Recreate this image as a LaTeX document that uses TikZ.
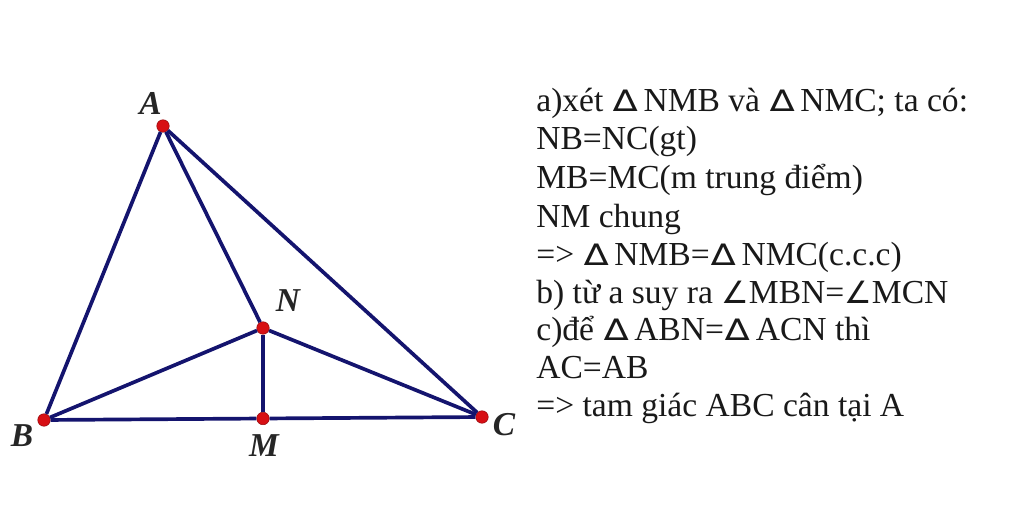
\documentclass[tikz,border=0pt]{standalone}
\usepackage{fontspec}
\setmainfont{Liberation Serif}
\newfontfamily\symfont{DejaVu Sans}
\usepackage{graphicx}
\usepackage{tikz}
\usetikzlibrary{positioning}
\newcommand{\tamgiac}{\kern1pt\scalebox{1.22}[1]{\symfont\fontsize{17}{17}\selectfont ∆}\kern3.2pt\relax}
\newcommand{\goc}{{\symfont\fontsize{17.5}{17.5}\selectfont ∠}}
\definecolor{edgeblue}{RGB}{20,20,110}
\definecolor{dotred}{RGB}{215,15,20}
\tikzset{
    vertex/.style={circle, fill=dotred, draw=dotred!70!black, line width=0.3pt, inner sep=0pt, minimum size=0.25cm},
    side/.style={draw=edgeblue, line width=2.1pt},
    ptlabel/.style={font=\fontsize{19}{19}\selectfont\bfseries\itshape, text=black!85, inner sep=0pt},
    proofline/.style={anchor=base west, font=\fontsize{19.1}{19.1}\selectfont, text=black!90, inner sep=0pt}
}
\begin{document}
\begin{tikzpicture}
    \useasboundingbox (0,0) rectangle (20.48,10.38);

    % Vertices
    \node[vertex] (A) at (3.26,7.86) {};
    \node[vertex] (B) at (0.88,1.98) {};
    \node[vertex] (C) at (9.64,2.04) {};
    \node[vertex] (M) at (5.26,2.01) {};
    \node[vertex] (N) at (5.26,3.82) {};

    % Sides
    \draw[side] (A) -- (B);
    \draw[side] (A) -- (C);
    \draw[side] (A) -- (N);
    \draw[side] (B) -- (M);
    \draw[side] (M) -- (C);
    \draw[side] (N) -- (B);
    \draw[side] (N) -- (C);
    \draw[side] (N) -- (M);

    % Point labels
    \node[ptlabel] (labA) at (3.01,8.32) {A};
    \node[ptlabel] (labB) at (0.44,1.66) {B};
    \node[ptlabel] (labC) at (10.08,1.88) {C};
    \node[ptlabel] (labM) at (5.28,1.46) {M};
    \node[ptlabel] (labN) at (5.76,4.36) {N};

    % Proof text
    \node[proofline] (line1) at (10.72,8.16) {a)xét \tamgiac NMB và \tamgiac NMC; ta có:};
    \node[proofline] (line2) at (10.72,7.38) {NB=NC(gt)};
    \node[proofline] (line3) at (10.72,6.62) {MB=MC(m trung điểm)};
    \node[proofline] (line4) at (10.72,5.84) {NM chung};
    \node[proofline] (line5) at (10.72,5.08) {=> \tamgiac NMB=\tamgiac NMC(c.c.c)};
    \node[proofline] (line6) at (10.72,4.32) {b) từ a suy ra \goc MBN=\goc MCN};
    \node[proofline] (line7) at (10.72,3.58) {c)để \tamgiac ABN=\tamgiac ACN thì};
    \node[proofline] (line8) at (10.72,2.82) {AC=AB};
    \node[proofline] (line9) at (10.72,2.06) {=> tam giác ABC cân tại A};
\end{tikzpicture}
\end{document}
